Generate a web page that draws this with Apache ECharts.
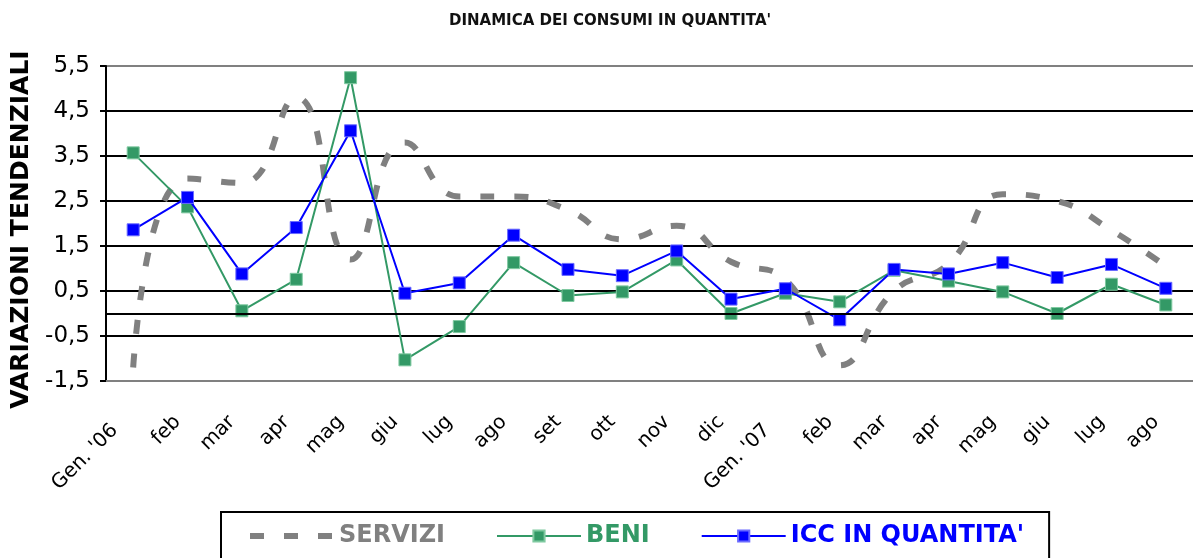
<!DOCTYPE html>
<html>
<head>
<meta charset="utf-8">
<script src="https://cdn.jsdelivr.net/npm/echarts@6/dist/echarts.min.js"></script>
<style>
html,body{margin:0;padding:0;background:#fff;}
#chart{width:1193px;height:558px;}
</style>
</head>
<body>
<div id="chart"></div>
<script>
const categories = ["Gen. '06","feb","mar","apr","mag","giu","lug","ago","set","ott","nov","dic","Gen. '07","feb","mar","apr","mag","giu","lug","ago"];
const servizi = [-1.2, 3.0, 2.9, 4.8, 1.2, 3.8, 2.6, 2.6, 2.3, 1.65, 1.95, 1.15, 0.75, -1.15, 0.5, 1.1, 2.65, 2.5, 1.85, 1.05];
const beni = [3.57, 2.37, 0.06, 0.76, 5.24, -1.03, -0.29, 1.13, 0.40, 0.48, 1.19, 0.0, 0.45, 0.26, 0.96, 0.72, 0.48, 0.0, 0.65, 0.19];
const icc = [1.86, 2.58, 0.88, 1.91, 4.06, 0.45, 0.68, 1.74, 0.98, 0.84, 1.39, 0.32, 0.55, -0.14, 0.98, 0.88, 1.13, 0.80, 1.09, 0.56];
const yTickLabels = ['-1,5','-0,5','0,5','1,5','2,5','3,5','4,5','5,5'];
const seriesNames = ['SERVIZI','BENI',"ICC IN QUANTITA'"];
const chartTitle = "DINAMICA DEI CONSUMI IN QUANTITA'";
const yTitle = 'VARIAZIONI TENDENZIALI';

const chart = echarts.init(document.getElementById('chart'), null, {renderer:'canvas'});
const FONT = '"DejaVu Sans", Verdana, sans-serif';
const xData = categories.map(function (c) {
  return c.indexOf('Gen.') === 0 ? {value: c, textStyle: {padding: [0, 26, 0, 0]}} : c;
});
chart.setOption({
  animation: false,
  backgroundColor: '#fff',
  title: {
    text: chartTitle,
    left: 444, top: 9,
    textStyle: {fontFamily: FONT, fontSize: 15, fontWeight: 'bold', color: '#111'}
  },
  grid: {left: 106, top: 66, width: 1097, height: 315, containLabel: false},
  legend: {
    left: 221, top: 512,
    padding: [12, 25, 20, 26],
    borderColor: '#000', borderWidth: 2,
    backgroundColor: '#fff',
    itemWidth: 84, itemHeight: 14, itemGap: 51,
    textStyle: {fontFamily: FONT, fontSize: 24, fontWeight: 'bold'},
    data: [
      {name: seriesNames[0], textStyle: {color: '#808080'}, itemStyle: {opacity: 0}, lineStyle: {type: [14, 20], width: 6, cap: 'butt'}},
      {name: seriesNames[1], textStyle: {color: '#339966'}},
      {name: seriesNames[2], textStyle: {color: '#0000ff'}}
    ]
  },
  xAxis: {
    type: 'category',
    data: xData,
    boundaryGap: true,
    axisLine: {onZero: false, lineStyle: {color: '#808080', width: 2}},
    axisTick: {show: false},
    axisLabel: {rotate: 45, margin: 28, padding: [0, 14, 0, 0], fontFamily: FONT, fontSize: 20, color: '#000', interval: 0}
  },
  yAxis: {
    type: 'value',
    min: -1.5, max: 5.5, interval: 1,
    name: yTitle,
    nameLocation: 'middle',
    nameRotate: 90,
    nameGap: 71,
    nameTextStyle: {fontFamily: FONT, fontSize: 25, fontWeight: 'bold', color: '#000', padding: [0, 12, 0, 0]},
    axisLine: {show: true, lineStyle: {color: '#000', width: 2}},
    axisTick: {show: true, length: 6, lineStyle: {color: '#000', width: 2}},
    axisLabel: {
      margin: 16, fontFamily: FONT, fontSize: 23, color: '#000',
      formatter: function (v) { const i = Math.round(v + 1.5); return yTickLabels[i] !== undefined ? yTickLabels[i] : String(v).replace('.', ','); }
    },
    splitLine: {show: true, lineStyle: {color: ['#808080','#000','#000','#000','#000','#000','#000','#808080'], width: 2}}
  },
  series: [
    {
      name: seriesNames[0], type: 'line', data: servizi, smooth: 0.5,
      showSymbol: false, symbol: 'none',
      lineStyle: {color: '#808080', width: 6, type: [14, 20], cap: 'butt'},
      itemStyle: {color: '#808080'},
      z: 2
    },
    {
      name: seriesNames[1], type: 'line', data: beni,
      symbol: 'rect', symbolSize: 12,
      lineStyle: {color: '#339966', width: 2},
      itemStyle: {color: '#339966', borderColor: '#7fc9a0', borderWidth: 1},
      markLine: {silent: true, symbol: 'none', label: {show: false},
        lineStyle: {color: '#000', width: 2, type: 'solid'}, data: [{yAxis: 0}]},
      z: 3
    },
    {
      name: seriesNames[2], type: 'line', data: icc,
      symbol: 'rect', symbolSize: 12,
      lineStyle: {color: '#0000ff', width: 2},
      itemStyle: {color: '#0000ff', borderColor: '#6a6aff', borderWidth: 1},
      z: 4
    }
  ]
});
</script>
</body>
</html>
